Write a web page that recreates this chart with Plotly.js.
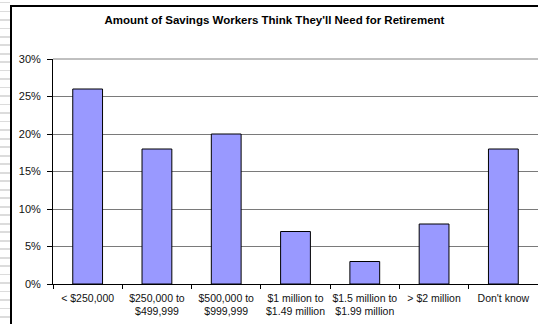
<!DOCTYPE html>
<html>
<head>
<meta charset="utf-8">
<script src="https://cdn.plot.ly/plotly-3.0.1.min.js"></script>
<style>
html,body{margin:0;padding:0;background:#fff;overflow:hidden;width:538px;height:324px;}
#wrap{position:absolute;left:0;top:0;width:538px;height:324px;overflow:hidden;}
#chart{position:absolute;left:0;top:0;width:545px;height:324px;}
#stripes{position:absolute;left:0;top:0;width:10px;height:324px;background:repeating-linear-gradient(to bottom,#ffffff 0px,#ffffff 2px,#dcdcdc 2px,#dcdcdc 3.5px,#ffffff 3.5px,#ffffff 8.5px);}
#frame{position:absolute;left:10px;top:5px;width:540px;height:330px;border-left:2px solid #000;border-top:2px solid #000;pointer-events:none;}
</style>
</head>
<body>
<div id="wrap">
<div id="chart"></div>
<div id="stripes"></div>
<div id="frame"></div>
</div>
<script>
var categories = ["< $250,000", "$250,000 to<br>$499,999", "$500,000 to<br>$999,999", "$1 million to<br>$1.49 million", "$1.5 million to<br>$1.99 million", "> $2 million", "Don't know"];
var percentValues = [0.26, 0.18, 0.20, 0.07, 0.03, 0.08, 0.18];
var yTickValues = [0, 0.05, 0.10, 0.15, 0.20, 0.25, 0.30];
var yTickLabels = ["0%", "5%", "10%", "15%", "20%", "25%", "30%"];
var chartTitle = "Amount of Savings Workers Think They'll Need for Retirement";

var W = 545, H = 324, L = 53, R = 7, T = 59, B = 40;
var pw = W - L - R, ph = H - T - B;
function px(x){ return (x - L) / pw; }

var shapes = [
  {type:'line', xref:'paper', yref:'paper', x0:0, x1:1, y0:1, y1:1, line:{color:'#808080', width:1}}
];

var data = [{
  type: 'bar',
  x: categories,
  y: percentValues,
  marker: {color: '#9999ff', line: {color: '#000', width: 1}},
  width: 0.43,
  hoverinfo: 'none'
}];

var layout = {
  width: W, height: H,
  margin: {l: L, r: R, t: T, b: B, pad: 0},
  paper_bgcolor: '#fff',
  plot_bgcolor: '#fff',
  showlegend: false,
  font: {family: 'Arial, Liberation Sans, sans-serif', size: 10, color: '#000'},
  title: {text: '<b>' + chartTitle + '</b>', font: {size: 11.5, color: '#000', family: 'Arial, Liberation Sans, sans-serif'}, x: px(274.5), xref: 'paper', xanchor: 'center', y: 1 - 20/H, yanchor: 'middle'},
  xaxis: {
    type: 'category',
    range: [-0.5, 6.5],
    showgrid: false,
    showline: true, linecolor: '#000', linewidth: 1,
    ticks: 'outside', ticklen: 4, tickcolor: '#000', tickson: 'boundaries',
    tickangle: 0, automargin: false, ticklabelstandoff: 4,
    tickfont: {size: 10.5, color: '#111'},
    fixedrange: true, zeroline: false
  },
  yaxis: {
    range: [0, 0.30],
    tickvals: yTickValues,
    ticktext: yTickLabels,
    showgrid: true, gridcolor: '#7a7a7a', gridwidth: 1,
    showline: true, linecolor: '#000', linewidth: 1,
    ticks: 'outside', ticklen: 5, tickcolor: '#000', ticklabelstandoff: 4,
    tickfont: {size: 11, color: '#111'},
    automargin: false,
    zeroline: false, fixedrange: true
  },
  shapes: shapes
};

Plotly.newPlot('chart', data, layout, {displayModeBar: false, staticPlot: true});
</script>
</body>
</html>
